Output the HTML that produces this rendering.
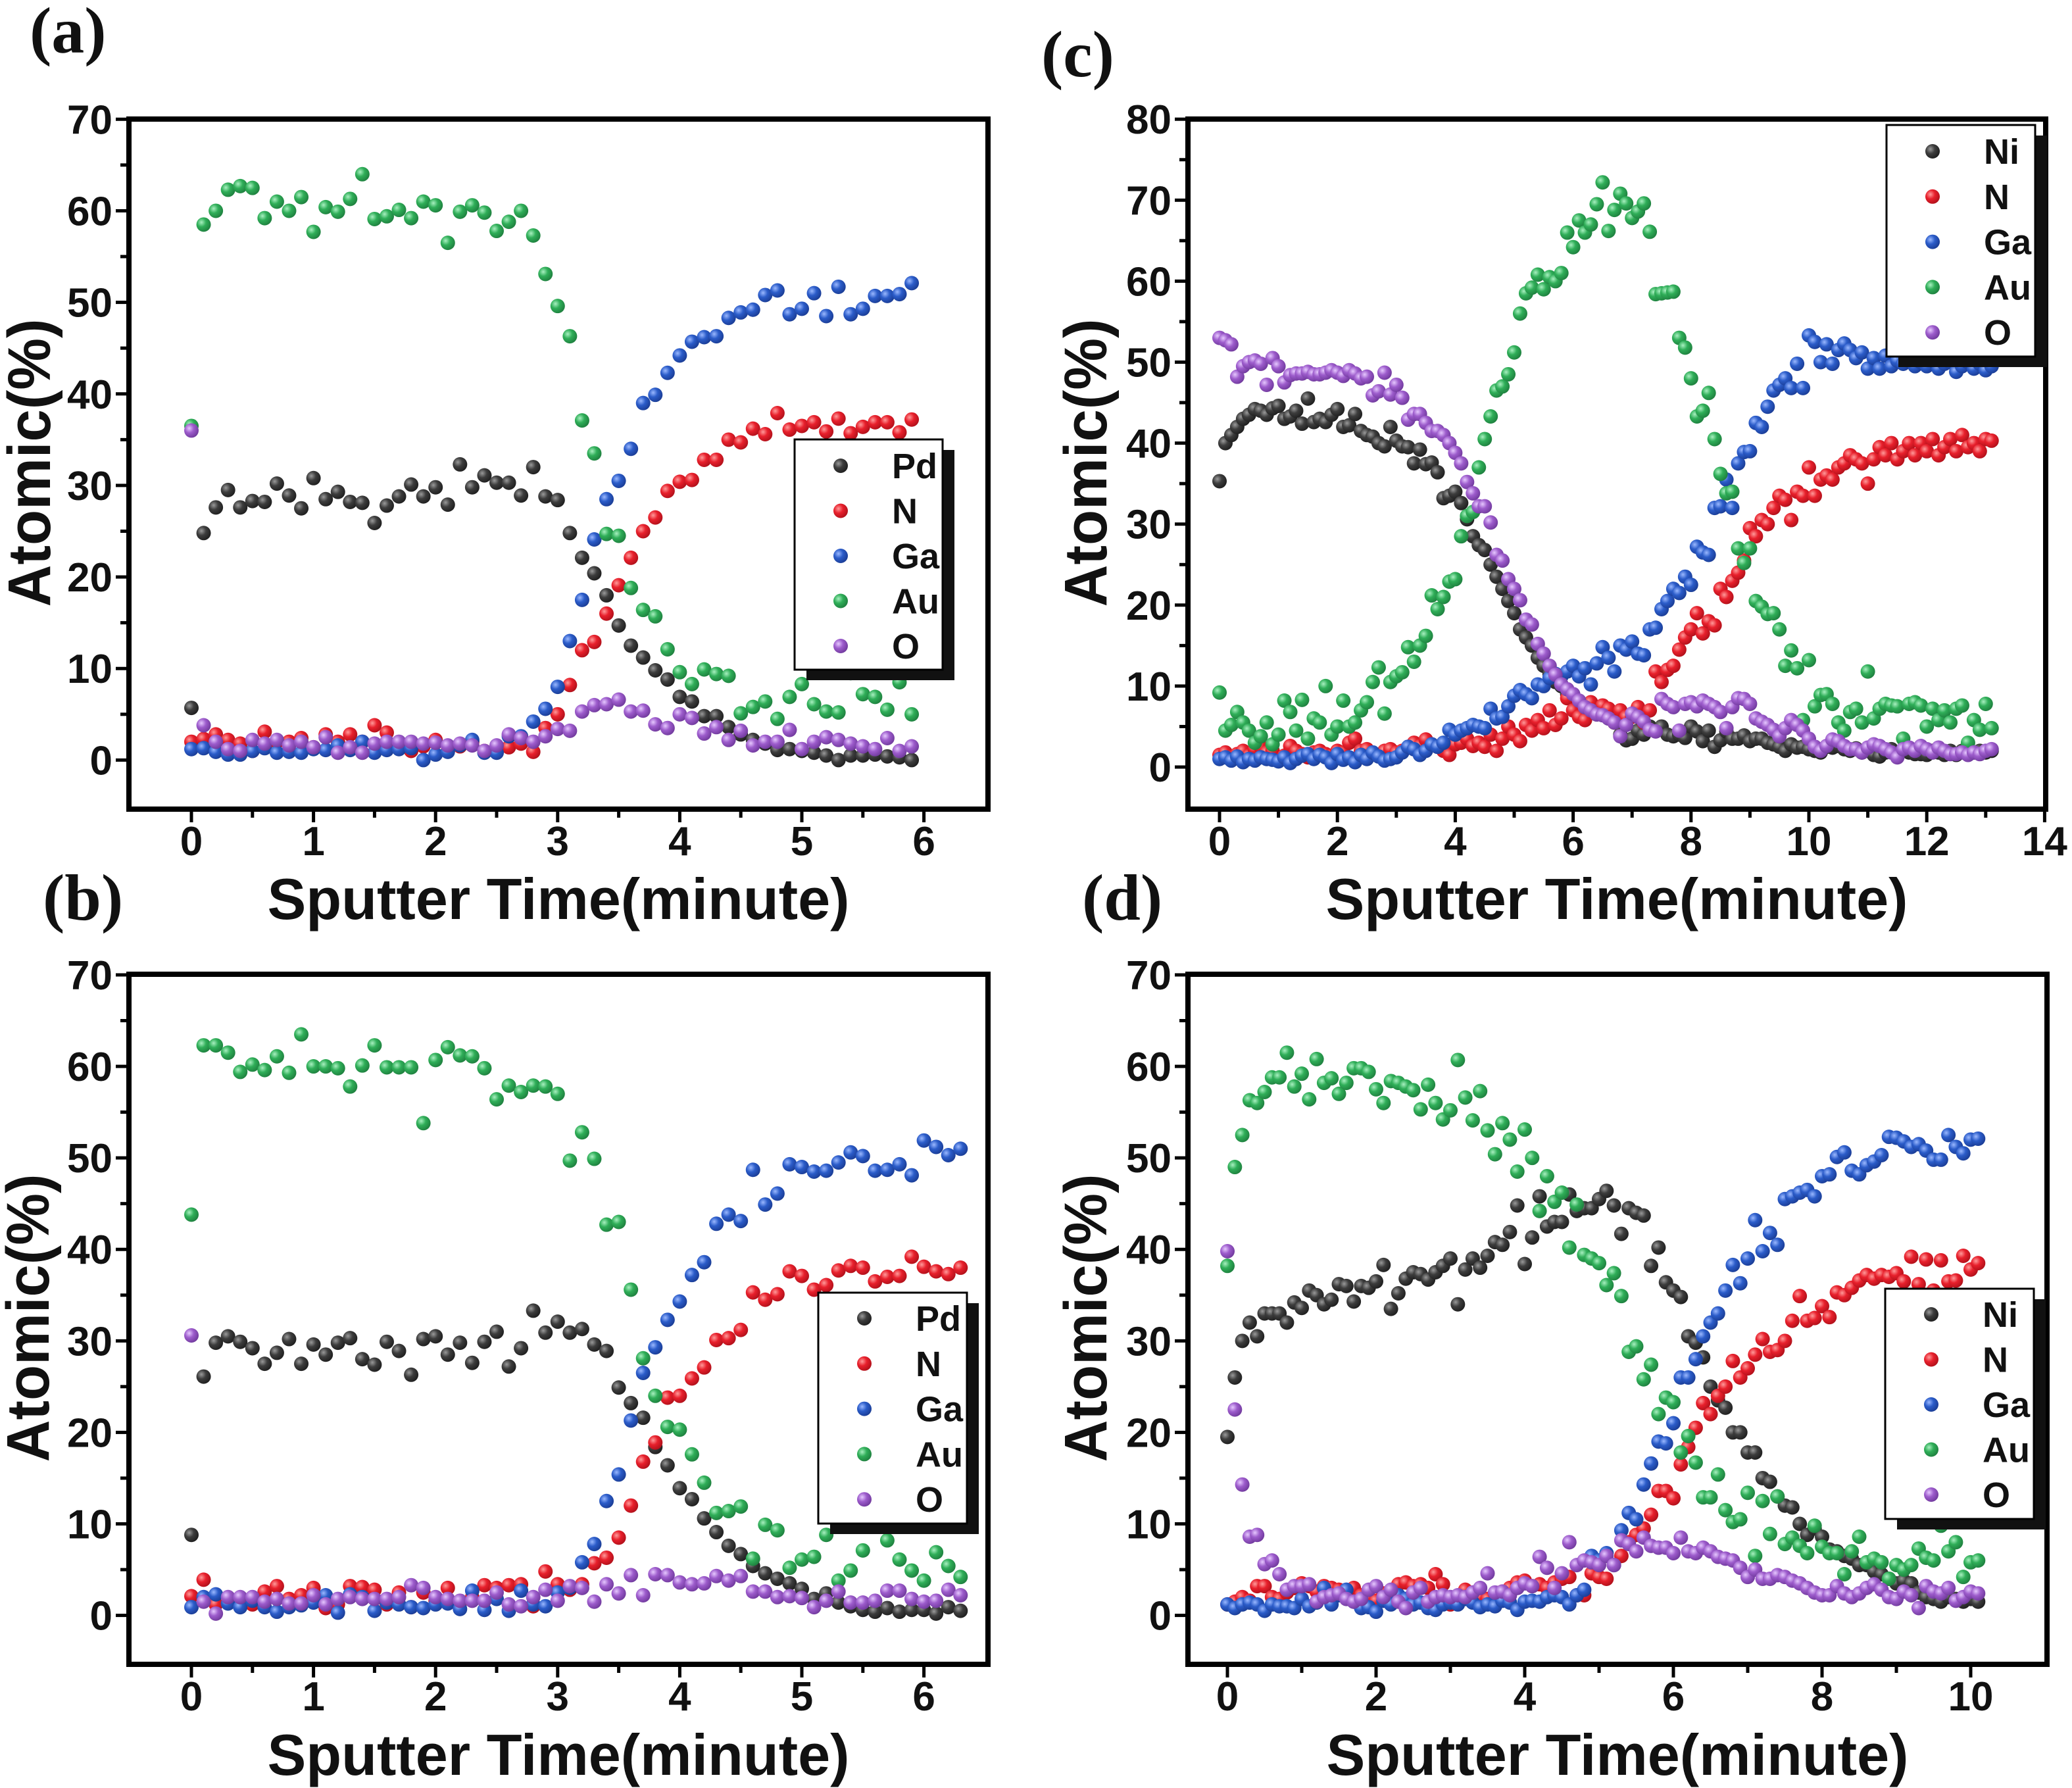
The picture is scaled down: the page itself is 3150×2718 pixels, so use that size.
<!DOCTYPE html>
<html><head><meta charset="utf-8"><style>
html,body{margin:0;padding:0;background:#fff;}
svg{display:block;}
text{font-family:"Liberation Sans",Arial,sans-serif;font-weight:bold;fill:#111;}
.pl{font-family:"Liberation Serif","Times New Roman",serif;font-weight:bold;}
</style></head><body>
<svg id="fig" width="3150" height="2718" viewBox="0 0 3150 2718" xmlns="http://www.w3.org/2000/svg">
<defs>
<radialGradient id="g-k" cx="0.35" cy="0.35" r="0.7"><stop offset="0" stop-color="#9a9a9a"/><stop offset="0.45" stop-color="#3d3d3d"/><stop offset="1" stop-color="#1e1e1e"/></radialGradient>
<radialGradient id="g-r" cx="0.35" cy="0.35" r="0.7"><stop offset="0" stop-color="#ff9a9a"/><stop offset="0.45" stop-color="#e8202c"/><stop offset="1" stop-color="#b0101a"/></radialGradient>
<radialGradient id="g-b" cx="0.35" cy="0.35" r="0.7"><stop offset="0" stop-color="#9ab8ff"/><stop offset="0.45" stop-color="#2b5cc9"/><stop offset="1" stop-color="#1a3c94"/></radialGradient>
<radialGradient id="g-g" cx="0.35" cy="0.35" r="0.7"><stop offset="0" stop-color="#a8f0c0"/><stop offset="0.45" stop-color="#2fae58"/><stop offset="1" stop-color="#1e7f3e"/></radialGradient>
<radialGradient id="g-p" cx="0.35" cy="0.35" r="0.7"><stop offset="0" stop-color="#e6c8ff"/><stop offset="0.45" stop-color="#9d5ccc"/><stop offset="1" stop-color="#70399c"/></radialGradient>
</defs>
<text class="pl" x="45" y="80" font-size="100">(a)</text>
<text class="pl" x="65" y="1398" font-size="100">(b)</text>
<text class="pl" x="1583" y="116" font-size="100">(c)</text>
<text class="pl" x="1645" y="1398" font-size="100">(d)</text>
</svg>
<script>
// ---------- data (x = index * 0.1 min) ----------
const aPd=[5.7,24.8,27.6,29.5,27.6,28.3,28.2,30.2,28.9,27.5,30.8,28.5,29.3,28.2,28.1,25.9,27.8,28.8,30.1,28.8,29.8,27.9,32.3,29.8,31.1,30.3,30.3,28.9,32.0,28.8,28.4,24.8,22.1,20.4,18,14.7,12.5,11.2,9.8,8.8,6.9,6.4,4.8,4.8,3.6,2.8,2.2,1.8,1.1,1.2,1.0,0.8,0.5,0.0,0.5,0.5,0.6,0.4,0.3,0.0];
const aN=[2.0,2.3,2.8,2.2,1.8,1.0,3.1,2.0,2.0,2.4,1.4,2.8,2.0,2.8,2.0,3.8,3.0,1.6,1.0,1.5,2.2,1.0,1.5,2.0,1.0,1.2,1.4,1.8,0.9,3.5,5.0,8.2,12.0,12.9,16.0,19.1,22.1,25.0,26.5,29.4,30.4,30.6,32.8,32.8,35.0,34.7,36.2,35.6,37.9,36.1,36.5,36.9,35.9,37.3,35.7,36.4,36.9,36.9,35.8,37.2];
const aGa=[1.2,1.3,0.9,0.6,0.6,1.0,1.3,0.8,0.9,0.8,1.2,1.1,1.6,1.1,2.0,0.8,1.1,1.2,1.3,0.0,0.6,0.9,1.6,2.2,0.8,0.8,2.6,2.6,4.2,5.6,8.0,13.0,17.5,24.1,28.5,30.5,34.0,39.0,39.9,42.3,44.2,45.7,46.2,46.3,48.3,48.9,49.2,50.8,51.3,48.7,49.3,51.0,48.5,51.7,48.7,49.3,50.7,50.7,50.9,52.1];
const aAu=[36.5,58.5,60,62.3,62.7,62.5,59.2,61,60,61.5,57.7,60.4,59.9,61.3,64,59.1,59.4,60.1,59.2,61,60.6,56.5,59.9,60.6,59.8,57.8,58.8,60,57.3,53.1,49.6,46.3,37.1,33.5,24.7,24.5,18.8,16.4,15.7,12.1,9.6,8.3,9.9,9.4,9.2,5.1,5.8,6.4,4.5,6.9,8.3,6.1,5.3,5.2,9.5,7.2,6.9,5.5,8.5,5.0];
const aO=[36.0,3.8,2.0,1.2,1.0,2.2,1.8,2.2,1.6,2.0,1.4,2.5,0.8,1.4,0.8,1.8,2.0,2.0,2.0,1.8,1.9,1.6,1.8,1.6,1.0,1.6,2.8,2.4,2.0,2.6,3.4,3.2,5.3,6.0,6.1,6.6,5.3,5.4,3.9,3.5,5.0,4.6,2.9,3.6,2.2,3.2,1.6,2.0,2.0,3.3,1.2,2.0,2.5,2.2,1.8,1.5,1.2,2.4,1.0,1.5];

const bPd=[8.8,26.1,29.8,30.5,29.9,29.2,27.5,28.7,30.2,27.5,29.6,28.5,29.8,30.3,28.0,27.4,29.9,28.9,26.3,30.2,30.5,28.5,29.8,27.6,29.9,31.0,27.2,29.2,33.3,30.9,32.1,30.9,31.3,29.6,28.9,24.9,23.2,21.6,18.4,16.4,13.9,12.7,10.6,9.1,7.6,6.7,5.4,4.6,4.0,3.5,2.9,1.8,2.4,1.4,1.0,0.6,0.4,0.8,0.4,0.6,0.6,0.2,0.9,0.5];
const bN=[2.1,3.9,1.2,1.4,1.5,1.2,2.6,3.2,1.8,2.2,3.0,0.8,1.2,3.2,3.1,2.8,1.2,2.5,0.9,2.5,1.6,3.0,1.4,2.0,3.3,3.0,3.3,3.4,1.0,4.8,3.4,2.8,3.4,5.7,6.3,8.5,12.0,16.8,18.9,23.8,24.0,25.9,27.1,30.1,30.3,31.2,35.3,34.5,35.1,37.6,37.1,35.6,36.1,37.7,38.2,38.0,36.5,37.0,37.1,39.2,38.1,37.6,37.3,38.0];
const bGa=[0.9,2.0,2.3,1.3,0.9,1.6,0.9,0.4,0.9,1.1,1.4,2.2,0.3,2.3,2.0,0.5,1.4,1.2,0.9,0.8,1.2,1.3,0.7,2.7,0.6,1.8,0.5,2.7,1.2,1.0,2.5,3.0,5.8,7.8,12.5,15.4,21.3,26.5,29.3,32.3,34.3,37.2,38.6,42.8,43.8,43.1,48.7,44.9,46.1,49.3,49.0,48.5,48.6,49.5,50.6,50.2,48.6,48.7,49.3,48.1,51.9,51.2,50.3,51.0];
const bAu=[43.8,62.3,62.3,61.5,59.4,60.2,59.6,61.1,59.3,63.5,60.0,60.0,59.8,57.8,60.1,62.3,59.9,59.9,59.9,53.8,60.7,62.1,61.2,61.1,59.8,56.4,57.9,57.2,57.9,57.8,57.0,49.7,52.8,49.9,42.7,43.0,35.6,28.1,24.0,20.6,20.3,17.6,14.5,11.2,11.4,11.9,6.2,9.9,9.3,5.2,6.1,6.4,8.8,3.8,4.9,7.1,9.8,8.2,6.1,4.9,3.8,6.9,5.4,4.2];
const bO=[30.6,1.5,0.2,2.0,2.0,2.0,1.5,1.8,1.3,1.3,2.2,1.2,1.8,2.0,1.8,1.8,1.8,2.0,3.3,3.0,2.0,1.8,1.6,1.6,1.6,2.5,1.2,1.0,2.0,2.8,1.6,3.2,3.0,1.5,3.4,2.4,4.4,2.2,4.5,4.4,3.6,3.4,3.5,4.3,3.8,4.3,2.6,2.6,2.0,2.1,1.9,0.9,1.6,2.6,1.4,1.4,1.6,2.7,2.7,1.8,1.5,1.6,2.8,2.2];

const cNi=[35.3,40,41,42,43,43.5,44.2,44,43.5,44.3,44.6,43,43.3,44,42.4,45.5,42.6,43,42.6,43.5,44.2,42,42.2,43.6,41.5,41,40.8,40,39.6,42,40.3,39.6,39.5,37.5,39.2,37.4,37.6,36.4,33.2,33.5,34,32.6,30.6,28.5,27.4,26.8,25,23.5,22,20.5,19,17,16,15,13.5,12.5,11.5,10.5,10,9,8.5,8,7.5,7,6.5,6.5,6,5.5,4,3.3,3.5,4.5,4,5,4.5,5,4,3.8,4,3.6,5,4.4,3.2,4.5,2.5,3.3,4.4,3.5,3.5,3.9,3.2,3.5,3.5,3.0,2.8,2.5,2.0,2.8,2.4,2.5,2.2,2.0,1.8,2.5,2.4,2.6,2.2,2.0,2.3,1.8,2.0,1.5,1.3,1.8,2.2,1.5,2.0,1.8,1.6,1.6,1.5,2.0,1.8,1.5,2.0,1.5,2.0,2.4,1.8,2.0,1.8,2.0];
const cN=[1.5,1.8,1.2,1.6,2.0,1.4,2.2,2.5,1.8,2.0,0.8,1.4,2.6,2.0,1.6,1.2,1.8,2.0,1.6,1.4,2.0,1.8,3.0,3.5,2.0,2.2,1.6,1.4,2.0,2.2,1.8,2.0,2.4,3.0,2.6,3.4,2.8,2.5,2.0,1.5,2.8,3.0,3.5,2.6,3.0,2.5,4.0,2.0,3.5,5.0,4.0,3.2,5.2,4.5,5.8,4.8,7.0,5.2,6.0,8.5,7.0,6.2,5.8,8.0,6.8,7.6,7.2,5.5,7.0,6.2,6.2,7.4,5.5,7.0,11.8,10.5,12.0,12.5,14.5,16.0,17.0,19.0,16.5,18.0,17.5,22.0,21.0,23.0,24.0,25.5,29.5,28.5,30.5,30.0,32.0,33.5,33.0,30.5,34.0,33.5,37.0,33.5,35.5,36.0,35.5,37.0,37.5,38.5,38.0,37.5,35.0,38.0,39.5,38.5,40.0,38.0,39.0,40.0,38.5,40.0,39.0,40.5,38.5,39.5,40.5,39.0,41.0,39.5,40.0,39.0,40.5,40.3];
const cGa=[1.0,1.2,0.8,1.3,0.6,1.0,0.8,1.2,1.0,0.9,0.7,1.2,0.5,1.0,1.4,1.6,1.0,1.5,1.2,0.5,1.6,0.9,1.2,0.6,1.5,1.0,1.8,1.3,0.8,1.0,1.2,1.8,2.5,2.2,1.5,2.0,2.8,2.5,3.0,4.6,4.0,4.5,4.8,5.2,5.0,4.8,7.2,6.0,6.2,7.5,8.8,9.5,9.0,8.5,10.2,10.0,11.0,11.5,11.2,11.8,12.5,11.2,12.2,10.2,12.8,14.8,13.5,11.8,15.0,14.5,15.5,14.0,13.8,17.0,17.2,19.5,20.5,22.0,21.5,23.5,22.5,27.2,26.5,26.2,32.0,32.2,35.5,32.0,37.5,38.9,39.0,42.5,42.0,44.5,46.5,47.2,48.0,46.8,49.8,46.8,53.3,52.5,50.0,52.2,49.8,51.5,52.3,51.5,50.5,51.2,49.2,50.5,49.2,50.8,49.5,50.2,49.8,50.5,49.5,50.0,49.5,50.2,49.2,49.8,50.0,48.8,49.5,50.0,49.2,49.8,49.0,49.5];
const cAu=[9.2,4.5,5.2,6.8,5.5,4.5,3.0,3.8,5.5,2.8,4.0,8.2,6.8,4.5,8.3,3.5,6.0,5.5,10.0,4.0,5.0,8.2,5.0,5.5,7.0,8.0,10.5,12.3,6.6,10.5,11.2,11.7,14.8,13.0,15.0,16.2,21.2,19.5,21.0,22.9,23.2,28.5,31.0,31.5,37.0,40.5,43.3,46.5,47.0,48.5,51.2,56.0,58.5,59.2,60.8,59,60.5,60,61,66,64.2,67.5,66,67,69.5,72.2,66.2,68.8,70.8,69.6,67.8,68.6,69.6,66.1,58.4,58.5,58.6,58.7,53.0,51.8,48.0,43.3,44.0,46.2,40.5,36.2,33.8,34.0,27.0,25.2,27.0,20.5,19.8,18.9,19.0,17.0,12.5,14.4,12.2,5.8,13.2,7.5,8.9,9.0,7.8,5.5,4.5,6.8,7.2,5.5,11.8,6.0,7.2,7.8,7.6,7.5,3.5,7.8,8.0,7.6,5.0,7.2,5.8,7.0,5.5,7.2,7.6,3.0,5.8,4.6,7.8,4.8];
const cO=[53,52.7,52.2,48.2,49.5,50,50.2,49.8,47.2,50.5,49.5,47.5,48.4,48.6,48.6,48.8,48.5,48.5,48.7,49,48.7,48.3,49,48.6,48,48.2,45.9,46.4,48.7,46,47.2,45.6,42.9,43.6,43.6,42.5,41.5,41.5,41,40,38.8,37.5,35.2,33.8,32.2,32.2,30.2,26.2,25.5,23.2,22,20.6,18.2,17.6,15.2,14,12.5,11.4,10.2,9.6,9,8.2,7.4,7,6.5,6.4,6,5.5,3.8,5.2,6.6,6.2,5.6,4.6,4.4,8.4,7.8,7.4,4.5,7.8,8,7.5,8.2,7.8,7.4,6.8,4.8,7.4,8.5,8.4,7.8,6,5.6,5.2,4.6,3.8,4.8,5.8,5.2,4.5,3.5,2.5,2.0,2.6,3.4,3.2,2.6,2.2,2.2,1.8,2.4,2.8,2.6,2.2,1.8,1.2,2.2,2.4,2.0,2.6,2.2,1.8,2.4,2.0,1.6,1.6,1.8,1.5,1.8,1.6,2.0,2.2];

const dNi=[19.5,26,30,32,30.5,33,33,33,32,34.2,33.6,35.5,35,34,34.5,36.2,36,34.3,36,35.8,36.5,38.3,33.5,35.2,36.8,37.5,37.3,36.7,37.5,38.2,39,34,37.8,39,38,39.3,40.8,40.5,41.9,44.8,38.4,41.3,45.8,42.5,43,43,46,44.2,44.5,44.5,45.5,46.4,44.8,41.7,44.5,44,43.7,38.2,40.2,36.4,35.5,34.8,30.5,29.8,28.2,25,23.5,22.7,20,20,17.8,17.8,15,14.6,13,12,11.8,10,8.8,9.5,8.6,7.2,7.0,6.5,6.2,5.5,5.5,4.8,4.5,4.0,3.5,3.8,3.5,2.5,2.0,1.8,1.5,2.0,1.8,1.5,1.8,1.5];
const dN=[1.2,1.5,2.0,1.6,3.2,3.2,2.0,1.8,2.5,3.0,3.5,3.2,2.6,3.2,3.0,2.8,2.6,3.0,2.2,2.0,1.6,2.4,2.2,3.4,3.6,3.2,3.4,3.0,4.5,3.4,1.2,1.5,2.8,2.5,2.0,1.8,2.4,2.6,3.0,3.6,3.8,3.2,3.4,3.0,3.6,4.0,4.2,2.2,2.2,4.6,4.2,4.0,5.5,6.5,8.0,8.8,9.5,11.0,13.6,13.6,12.8,16.5,18.4,20.5,23.2,22,24,25,27.8,26,27,28.5,30.2,28.8,29,30,32.2,34.9,32.2,32.5,33.8,32.6,35.3,35,35.8,36.6,37.2,36.8,37.2,37.0,37.4,36.5,39.2,36.2,38.9,35.5,38.8,36.5,36.6,39.3,37.8,38.5];
const dGa=[1.2,0.8,1.2,1.4,1.2,0.5,1.2,1.0,1.0,0.8,1.8,1.0,1.4,3.0,1.2,2.2,2.8,1.5,0.8,0.9,0.4,1.6,1.2,2.2,1.8,1.2,1.4,0.8,0.6,1.2,1.4,1.2,1.8,1.4,0.9,1.2,1.0,1.6,1.4,0.6,1.5,1.6,1.5,2.0,2.2,2.0,1.2,2.2,2.8,6.5,6.0,6.8,5.5,9.3,11.2,10.5,14.3,16.6,19,18.8,21,26,26,28,30.5,32,33,35.5,38.3,36.3,39,43.2,39.8,41.8,40.5,45.5,45.8,46.2,46.5,45.8,48,48.2,50.1,50.6,48.6,48.2,49.2,49.6,50.3,52.3,52.2,51.8,51.2,51.5,50.8,49.8,49.8,52.5,51.2,50.5,52.0,52.1];
const dAu=[38.2,49,52.5,56.3,56,57.2,58.8,58.8,61.5,57.8,59.2,56.4,60.8,58.2,58.7,57,58.2,59.8,59.8,59.4,57.5,56,58.4,58.2,57.8,57.4,55.3,58,56,54.2,55.2,60.7,56.6,54.1,57.3,53,50.4,53.8,52,48.5,53.1,50,44.2,48,45.2,46.2,40.2,44.9,39.4,39,38.5,36.1,37.4,34.9,28.8,29.4,25.8,27.4,22,23.8,23.3,17.8,19.6,16.7,12.9,12.9,15.4,11.5,10.2,10.5,13.4,6.5,12.5,8.9,13,7.8,8.5,7.6,6.8,9.8,7.5,6.8,6.8,4.5,7,8.6,5.8,6.2,5.8,4.0,5.5,5.0,5.5,7.3,6.3,6.0,9.8,7.0,8.0,4.2,5.8,6.0];
const dO=[39.8,22.5,14.3,8.6,8.8,5.6,6.0,4.5,2.8,3.2,3.2,3.4,1.5,2.0,2.2,2.4,1.8,1.5,1.8,2.8,3.2,2.0,2.8,1.5,0.8,2.5,3.0,1.5,2.0,2.2,2.0,2.2,2.0,2.5,3.0,4.6,2.5,2.6,2.2,3.0,3.5,3.2,6.4,5.2,3.0,4.6,8.0,5.5,6.0,5.8,5.5,6.5,5.5,8.2,7.8,7.0,8.5,7.6,7.4,7.4,6.8,8.5,7.0,6.8,7.4,7.0,6.4,6.2,6.0,5.2,4.2,5.0,4.0,4.0,4.4,4.2,3.8,3.5,3.0,2.5,2.2,2.2,3.2,2.4,2.0,2.4,3.0,3.4,2.8,2.0,1.8,2.6,2.2,0.8,3.2,2.6,2.4,3.0,1.6,2.0,2.6,2.4];

const xStep=0.1;
const yTicks70=[0,10,20,30,40,50,60,70];
const yTicks80=[0,10,20,30,40,50,60,70,80];
const xTicksAB=[0,1,2,3,4,5,6];
const xTicksC=[0,2,4,6,8,10,12,14];
const xTicksD=[0,2,4,6,8,10];
const legendPd=["Pd","N","Ga","Au","O"];
const legendNi=["Ni","N","Ga","Au","O"];

const NS="http://www.w3.org/2000/svg";
const svg=document.getElementById('fig');
const grads=["url(#g-k)","url(#g-r)","url(#g-b)","url(#g-g)","url(#g-p)"];
function mk(tag,attrs,parent){const e=document.createElementNS(NS,tag);for(const k in attrs)e.setAttribute(k,attrs[k]);(parent||svg).appendChild(e);return e;}

function panel(cfg){
  const g=mk('g',{});
  
  
  const X=v=>cfg.x0+v*cfg.xs, Y=v=>cfg.y0-v*cfg.ys;
  // series
  cfg.series.forEach((s,si)=>{
    const sg=mk('g',{},g);
    
    
    s.forEach((v,i)=>{
      const c=mk('circle',{cx:X(i*xStep),cy:Y(v),r:11,fill:grads[si]},sg);
      
      
    });
  });
  // frame
  const fr=mk('rect',{x:cfg.bx0,y:cfg.by0,width:cfg.bx1-cfg.bx0,height:cfg.by1-cfg.by0,fill:'none',stroke:'#000','stroke-width':8},g);
  
  
  // y ticks
  const yt=cfg.yTicks;
  for(let v=yt[0];v<=yt[yt.length-1];v+=5){
    const major=(v%10===0);
    const l=mk('line',{x1:cfg.bx0-4,x2:cfg.bx0-4-(major?16:9),y1:Y(v),y2:Y(v),stroke:'#000','stroke-width':5},g);
    
    
  }
  yt.forEach(v=>{
    const t=mk('text',{x:cfg.bx0-25,y:Y(v)+22,'font-size':62,'text-anchor':'end'},g);
    t.textContent=v;
    
    
  });
  const xt=cfg.xTicks, half=(xt[1]-xt[0])/2;
  for(let v=xt[0];v<=xt[xt.length-1]+1e-9;v+=half){
    const major=Math.abs(Math.round(v/(2*half))*(2*half)-v)<1e-6;
    const xp=X(v); if(xp>cfg.bx1+2) continue;
    const l=mk('line',{x1:xp,x2:xp,y1:cfg.by1+4,y2:cfg.by1+4+(major?16:9),stroke:'#000','stroke-width':5},g);
    
    
  }
  xt.forEach(v=>{
    const t=mk('text',{x:X(v),y:cfg.xLabY,'font-size':62,'text-anchor':'middle'},g);
    t.textContent=v;
    
    
  });
  const xtitle=mk('text',{x:(cfg.bx0+cfg.bx1)/2,y:cfg.xTitleY,'font-size':88,'text-anchor':'middle',textLength:885,lengthAdjust:'spacingAndGlyphs'},g);
  xtitle.textContent='Sputter Time(minute)';
  
  
  const cy=(cfg.by0+cfg.by1)/2-2;
  const ytitle=mk('text',{x:0,y:0,'font-size':92,'text-anchor':'middle',textLength:438,lengthAdjust:'spacingAndGlyphs',transform:'translate('+cfg.yTitleX+','+cy+') rotate(-90)'},g);
  ytitle.textContent='Atomic(%)';
  
  
  // legend
  const L=cfg.leg;
  const lg=mk('g',{},g);
  
  
  const sh=mk('rect',{x:L.x+18,y:L.y+16,width:L.w,height:L.h,fill:'#111'},lg);
  
  
  const bx=mk('rect',{x:L.x,y:L.y,width:L.w,height:L.h,fill:'#fff',stroke:'#000','stroke-width':3},lg);
  
  
  cfg.legend.forEach((name,i)=>{
    const ey=L.e0+i*L.de;
    const e=mk('g',{},lg);
    
    
    mk('circle',{cx:L.x+70,cy:ey,r:11,fill:grads[i]},e);
    const t=mk('text',{x:L.x+148,y:ey+19,'font-size':54},e);
    t.textContent=name;
  });
}

panel({id:'a',series:[aPd,aN,aGa,aAu,aO],legend:legendPd,x0:291,xs:185.6,y0:1155.4,ys:13.916,
  bx0:196,bx1:1502,by0:181,by1:1230,yTicks:yTicks70,xTicks:xTicksAB,xLabY:1300,xTitleY:1397,yTitleX:76,
  leg:{x:1208,y:668,w:225,h:350,e0:708,de:68.5}});
panel({id:'b',series:[bPd,bN,bGa,bAu,bO],legend:legendPd,x0:291,xs:185.6,y0:2455.6,ys:13.909,
  bx0:196,bx1:1502,by0:1481,by1:2530,yTicks:yTicks70,xTicks:xTicksAB,xLabY:2600,xTitleY:2698,yTitleX:74,
  leg:{x:1244,y:1965,w:226,h:351,e0:2004,de:68.8}});
panel({id:'c',series:[cNi,cN,cGa,cAu,cO],legend:legendNi,x0:1854,xs:89.6,y0:1166,ys:12.31,
  bx0:1806,bx1:3110,by0:181,by1:1230,yTicks:yTicks80,xTicks:xTicksC,xLabY:1300,xTitleY:1397,yTitleX:1682,
  leg:{x:2868,y:190,w:226,h:352,e0:230,de:68.8}});
panel({id:'d',series:[dNi,dN,dGa,dAu,dO],legend:legendNi,x0:1866,xs:113,y0:2455.6,ys:13.909,
  bx0:1806,bx1:3112,by0:1481,by1:2530,yTicks:yTicks70,xTicks:xTicksD,xLabY:2600,xTitleY:2698,yTitleX:1682,
  leg:{x:2866,y:1959,w:226,h:350,e0:1998,de:68.5}});
</script>
</body></html>
